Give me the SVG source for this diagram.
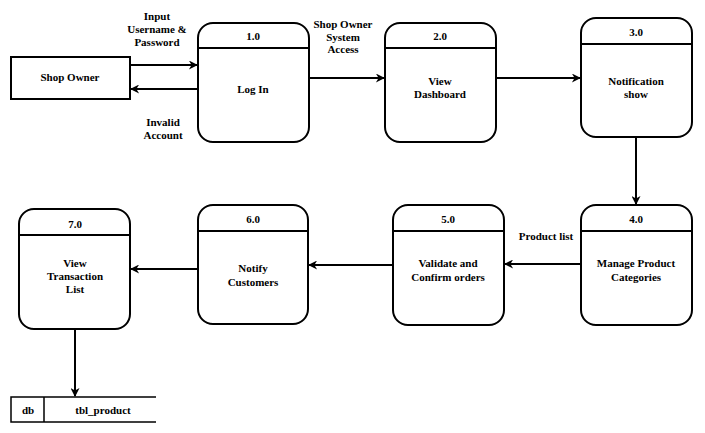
<svg xmlns="http://www.w3.org/2000/svg" width="705" height="433" viewBox="0 0 705 433">
<defs>
<marker id="arr" viewBox="0 0 10 10" refX="9" refY="5" markerWidth="10" markerHeight="9" markerUnits="userSpaceOnUse" orient="auto">
<path d="M0,0 L10,5 L0,10 L3,5 Z" fill="#000"/>
</marker>
<style>
text{font-family:"Liberation Serif","DejaVu Serif","Times New Roman",serif;font-size:11px;font-weight:bold;fill:#000;text-anchor:middle;dominant-baseline:central}
.box{fill:#fff;stroke:#000;stroke-width:2}
.hd{stroke:#000;stroke-width:2}
.ln{fill:none;stroke:#000;stroke-width:2;marker-end:url(#arr)}
</style>
</defs>
<rect width="705" height="433" fill="#fff"/>
<g id="connectors">
<line class="ln" x1="130" y1="65" x2="197" y2="65"/>
<line class="ln" x1="198" y1="89" x2="131" y2="89"/>
<line class="ln" x1="309" y1="78" x2="384" y2="78"/>
<line class="ln" x1="496" y1="78" x2="580" y2="78"/>
<line class="ln" x1="636" y1="137" x2="636" y2="204"/>
<line class="ln" x1="581" y1="264" x2="505" y2="264"/>
<line class="ln" x1="393" y1="265" x2="309" y2="265"/>
<line class="ln" x1="198" y1="269" x2="131" y2="269"/>
<line class="ln" x1="75" y1="329" x2="75" y2="396"/>
<text x="157" y="16">Input</text>
<text x="157" y="29">Username &amp;</text>
<text x="157" y="42">Password</text>
<text x="163" y="122">Invalid</text>
<text x="163" y="135">Account</text>
<text x="343" y="24">Shop Owner</text>
<text x="343" y="37">System</text>
<text x="343" y="49">Access</text>
<text x="546" y="236">Product list</text>
</g>
<g id="shop-owner">
<rect class="box" x="11" y="57" width="119" height="42"/>
<text x="70" y="77">Shop Owner</text>
</g>
<g id="p1">
<rect class="box" x="198" y="23" width="111" height="119" rx="15"/>
<line class="hd" x1="198" y1="48" x2="309" y2="48"/>
<text x="253" y="36">1.0</text>
<text x="253" y="89">Log In</text>
</g>
<g id="p2">
<rect class="box" x="385" y="23" width="111" height="119" rx="15"/>
<line class="hd" x1="385" y1="48" x2="496" y2="48"/>
<text x="440" y="36">2.0</text>
<text x="440" y="81">View</text>
<text x="440" y="94">Dashboard</text>
</g>
<g id="p3">
<rect class="box" x="581" y="18" width="111" height="119" rx="15"/>
<line class="hd" x1="581" y1="44" x2="692" y2="44"/>
<text x="636" y="32">3.0</text>
<text x="636" y="81">Notification</text>
<text x="636" y="94">show</text>
</g>
<g id="p4">
<rect class="box" x="581" y="205" width="111" height="120" rx="15"/>
<line class="hd" x1="581" y1="231" x2="692" y2="231"/>
<text x="636" y="219">4.0</text>
<text x="636" y="263">Manage Product</text>
<text x="636" y="277">Categories</text>
</g>
<g id="p5">
<rect class="box" x="393" y="205" width="111" height="120" rx="15"/>
<line class="hd" x1="393" y1="231" x2="504" y2="231"/>
<text x="448" y="219">5.0</text>
<text x="448" y="263">Validate and</text>
<text x="448" y="277">Confirm orders</text>
</g>
<g id="p6">
<rect class="box" x="198" y="205" width="110" height="119" rx="15"/>
<line class="hd" x1="198" y1="231" x2="308" y2="231"/>
<text x="253" y="219">6.0</text>
<text x="253" y="268">Notify</text>
<text x="253" y="282">Customers</text>
</g>
<g id="p7">
<rect class="box" x="19" y="209" width="111" height="120" rx="15"/>
<line class="hd" x1="19" y1="235" x2="130" y2="235"/>
<text x="75" y="224">7.0</text>
<text x="75" y="263">View</text>
<text x="75" y="276">Transaction</text>
<text x="75" y="289">List</text>
</g>
<g id="datastore">
<rect x="11" y="397" width="145" height="25" fill="#fff"/>
<path d="M156,397 H11 V422 H156 M44,397 V422" fill="none" stroke="#000" stroke-width="1.5"/>
<text x="28" y="410">db</text>
<text x="103" y="410">tbl_product</text>
</g>
</svg>
